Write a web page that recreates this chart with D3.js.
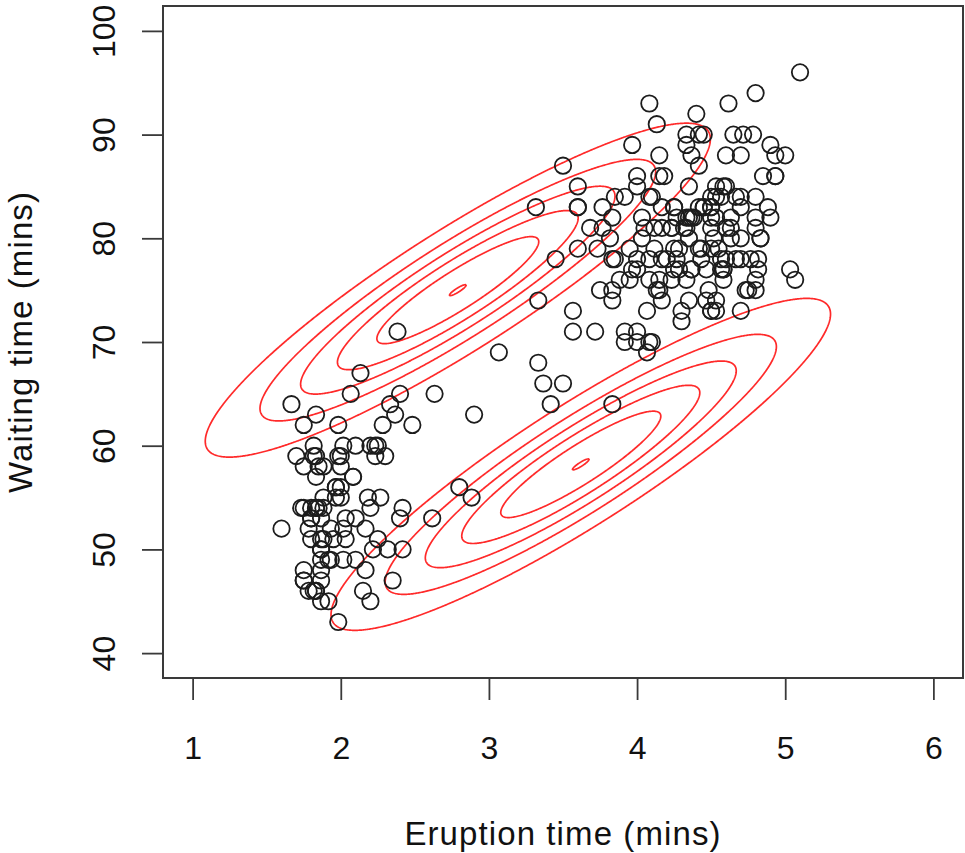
<!DOCTYPE html>
<html>
<head>
<meta charset="utf-8">
<script src="https://cdn.jsdelivr.net/npm/d3@7"></script>
<style>
  body { margin: 0; background: #fff; }
  svg { display: block; }
  text { font-family: "Liberation Sans", Arial, Helvetica, sans-serif; fill: #111; }
</style>
</head>
<body>
<div id="chart"></div>
<script>
// Old Faithful: eruption time vs waiting time
const eruptions = [
  3.600,1.800,3.333,2.283,4.533,2.883,4.700,3.600,1.950,4.350,
  1.833,3.917,4.200,1.750,4.700,2.167,1.750,4.800,1.600,4.250,
  1.800,1.750,3.450,3.067,4.533,3.600,1.967,4.083,3.850,4.433,
  4.300,4.467,3.367,4.033,3.833,2.017,1.867,4.833,1.833,4.783,
  4.350,1.883,4.567,1.750,4.533,3.317,3.833,2.100,4.633,2.000,
  4.800,4.716,1.833,4.833,1.733,4.883,3.717,1.667,4.567,4.317,
  2.233,4.500,1.750,4.800,1.817,4.400,4.167,4.700,2.067,4.700,
  4.033,1.967,4.500,4.000,1.983,5.067,2.017,4.567,3.883,3.600,
  4.133,4.333,4.100,2.633,4.067,4.933,3.950,4.517,2.167,4.000,
  2.200,4.333,1.867,4.817,1.833,4.300,4.667,3.750,1.867,4.900,
  2.483,4.367,2.100,4.500,4.050,1.867,4.700,1.783,4.850,3.683,
  4.733,2.300,4.900,4.417,1.700,4.633,2.317,4.600,1.817,4.417,
  2.617,4.067,4.250,1.967,4.600,3.767,1.917,4.500,2.267,4.650,
  1.867,4.167,2.800,4.333,1.833,4.383,1.883,4.933,2.033,3.733,
  4.233,2.233,4.533,4.817,4.333,1.983,4.633,2.017,5.100,1.800,
  5.033,4.000,2.400,4.600,3.567,4.000,4.500,4.083,1.800,3.967,
  2.200,4.150,2.000,3.833,3.500,4.583,2.367,5.000,1.933,4.617,
  1.917,2.083,4.583,3.333,4.167,4.333,4.500,2.417,4.000,4.167,
  1.883,4.583,4.250,3.767,2.033,4.433,4.083,1.833,4.417,2.183,
  4.800,1.833,4.800,4.100,3.966,4.233,3.500,4.366,2.250,4.667,
  2.100,4.350,4.133,1.867,4.600,1.783,4.367,3.850,1.933,4.500,
  2.383,4.700,1.867,3.833,3.417,4.233,2.400,4.800,2.000,4.150,
  1.867,4.267,1.750,4.483,4.000,4.117,4.083,4.267,3.917,4.550,
  4.083,2.417,4.183,2.217,4.450,1.883,1.850,4.283,3.950,2.333,
  4.150,2.350,4.933,2.900,4.583,3.833,2.083,4.367,2.133,4.350,
  2.200,4.450,3.567,4.500,4.150,3.817,3.917,4.450,2.000,4.283,
  4.767,4.533,1.850,4.250,1.983,2.250,4.750,4.117,2.150,4.417,
  1.817,4.467
];
const waiting = [
  79,54,74,62,85,55,88,85,51,85,
  54,84,78,47,83,52,62,84,52,79,
  51,47,78,69,74,83,55,76,78,79,
  73,77,66,80,74,52,48,80,59,90,
  80,58,84,58,73,83,64,53,82,59,
  75,90,54,80,54,83,71,64,77,81,
  59,84,48,82,60,92,78,78,65,73,
  82,56,79,71,62,76,60,78,76,83,
  75,82,70,65,73,88,76,80,48,86,
  60,90,50,78,63,72,84,75,51,82,
  62,88,49,83,81,47,84,52,86,81,
  75,59,89,79,59,81,50,85,59,87,
  53,69,77,56,88,81,45,82,55,90,
  45,83,56,89,46,82,51,86,53,79,
  81,60,82,77,76,59,80,49,96,53,
  77,77,65,81,71,70,81,93,53,89,
  45,86,58,78,66,76,63,88,52,93,
  49,57,77,68,81,81,73,50,85,74,
  55,77,83,83,51,78,84,46,83,55,
  81,57,76,84,77,81,87,77,51,78,
  60,82,91,53,78,46,77,84,49,83,
  71,80,49,75,64,76,53,94,55,76,
  50,82,54,75,78,79,78,78,70,79,
  70,54,86,50,90,54,54,77,79,64,
  75,47,86,63,85,82,57,82,67,74,
  54,83,73,73,88,80,71,83,56,79,
  78,84,58,83,43,60,75,81,46,90,
  46,74
];

// two gaussian components (mean x, mean y, sd x, sd y, correlation)
const compMeans = [[2.79, 75.0], [3.62, 58.2]];
const compSds = [[0.90, 8.5], [0.89, 8.45]];
const compRho = [0.905, 0.905];
// contour levels as a fraction of each component's peak
const contourLevels = [0.1663, 0.3327, 0.499, 0.6653, 0.8317, 0.998];

const xTicks = [1, 2, 3, 4, 5, 6];
const yTicks = [40, 50, 60, 70, 80, 90, 100];

const width = 965, height = 853;
const box = { left: 163, right: 963, top: 6, bottom: 678 };

const svg = d3.select('#chart').append('svg')
    .attr('width', width)
    .attr('height', height);

const x = d3.scaleLinear().domain([0.8, 6.2]).range([box.left, box.right]);
const y = d3.scaleLinear().domain([37.6, 102.4]).range([box.bottom, box.top]);

svg.append('clipPath').attr('id', 'plotclip')
  .append('rect')
    .attr('x', box.left).attr('y', box.top)
    .attr('width', box.right - box.left).attr('height', box.bottom - box.top);

// density grid in pixel space, one contour set per component
const gw = box.right - box.left, gh = box.bottom - box.top;
const contourG = svg.append('g')
    .attr('clip-path', 'url(#plotclip)')
  .append('g')
    .attr('transform', `translate(${box.left},${box.top})`);

compMeans.forEach((m, c) => {
  const [sx, sy] = compSds[c], r = compRho[c];
  const values = new Float64Array(gw * gh);
  for (let j = 0; j < gh; j++) {
    const dy = (y.invert(box.top + j + 0.5) - m[1]) / sy;
    for (let i = 0; i < gw; i++) {
      const dx = (x.invert(box.left + i + 0.5) - m[0]) / sx;
      const q = (dx * dx - 2 * r * dx * dy + dy * dy) / (1 - r * r);
      values[j * gw + i] = Math.exp(-0.5 * q);
    }
  }
  const contours = d3.contours().size([gw, gh]).thresholds(contourLevels)(values);
  contourG.selectAll(null)
    .data(contours)
    .join('path')
      .attr('d', d3.geoPath())
      .attr('fill', 'none')
      .attr('stroke', '#ff2a2a')
      .attr('stroke-width', 1.7);
});

// points
svg.append('g')
    .attr('clip-path', 'url(#plotclip)')
  .selectAll('circle')
  .data(eruptions.map((e, i) => [e, waiting[i]]))
  .join('circle')
    .attr('cx', d => x(d[0]))
    .attr('cy', d => y(d[1]))
    .attr('r', 8.2)
    .attr('fill', 'none')
    .attr('stroke', '#1c1c1c')
    .attr('stroke-width', 1.8);

// frame
svg.append('rect')
    .attr('x', box.left).attr('y', box.top)
    .attr('width', box.right - box.left).attr('height', box.bottom - box.top)
    .attr('fill', 'none')
    .attr('stroke', '#3a3a3a')
    .attr('stroke-width', 2);

// x axis
const xAxis = svg.append('g')
    .attr('transform', `translate(0,${box.bottom})`)
    .call(d3.axisBottom(x).tickValues(xTicks).tickFormat(d3.format('d'))
      .tickSize(22).tickPadding(36).tickSizeOuter(0));
xAxis.select('.domain').remove();
xAxis.selectAll('.tick line').attr('stroke', '#3a3a3a').attr('stroke-width', 1.8);
xAxis.selectAll('.tick text')
    .attr('fill', '#111')
    .attr('font-size', 32)
    .attr('font-family', '"Liberation Sans", Arial, sans-serif');

// y axis, labels rotated as in R
const yAxis = svg.append('g')
    .attr('transform', `translate(${box.left},0)`)
    .call(d3.axisLeft(y).tickValues(yTicks).tickFormat(d3.format('d'))
      .tickSize(21).tickSizeOuter(0));
yAxis.select('.domain').remove();
yAxis.selectAll('.tick line').attr('stroke', '#3a3a3a').attr('stroke-width', 1.8);
yAxis.selectAll('.tick text')
    .attr('fill', '#111')
    .attr('font-size', 32)
    .attr('font-family', '"Liberation Sans", Arial, sans-serif')
    .attr('text-anchor', 'middle')
    .attr('transform', 'rotate(-90)')
    .attr('x', 0)
    .attr('y', -48)
    .attr('dy', 0);

// axis titles
svg.append('text')
    .attr('x', (box.left + box.right) / 2)
    .attr('y', 845)
    .attr('text-anchor', 'middle')
    .attr('font-size', 33)
    .attr('letter-spacing', 1.1)
    .text('Eruption time (mins)');

svg.append('text')
    .attr('transform', `translate(32,${(box.top + box.bottom) / 2}) rotate(-90)`)
    .attr('text-anchor', 'middle')
    .attr('font-size', 33)
    .attr('letter-spacing', 1.1)
    .text('Waiting time (mins)');
</script>
</body>
</html>
